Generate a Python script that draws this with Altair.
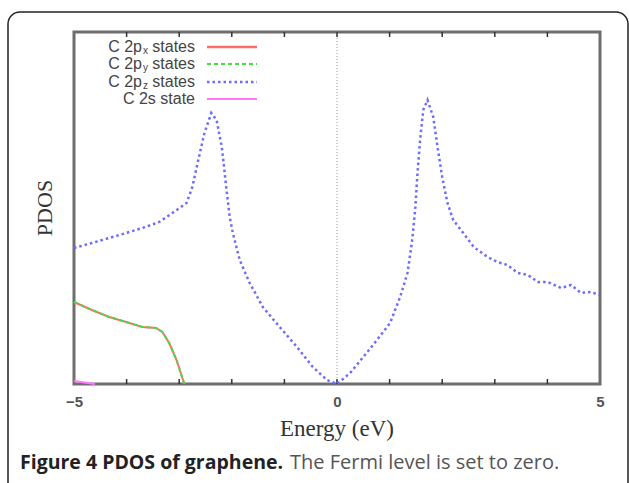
import altair as alt
import pandas as pd

# ---- data ----
energy_pz = [-5.0, -4.66, -4.33, -4.01, -3.70, -3.38, -3.13, -2.86, -2.75, -2.65, -2.52, -2.39,
             -2.29, -2.19, -2.10, -2.04, -1.98, -1.85, -1.66, -1.41, -1.09, -0.76, -0.46, -0.19, 0.0,
             0.25, 0.50, 0.76, 1.01, 1.20, 1.34, 1.43, 1.49, 1.53, 1.58, 1.64, 1.72, 1.83, 1.92,
             2.00, 2.10, 2.21, 2.40, 2.60, 2.86, 3.05, 3.24, 3.44, 3.63, 3.82, 4.01, 4.26, 4.45,
             4.64, 4.83, 4.98]
pdos_pz = [1.36, 1.41, 1.46, 1.51, 1.56, 1.62, 1.71, 1.81, 1.97, 2.21, 2.51, 2.71,
           2.64, 2.37, 1.94, 1.67, 1.51, 1.24, 1.01, 0.77, 0.57, 0.37, 0.17, 0.04, 0.0,
           0.11, 0.27, 0.44, 0.61, 0.87, 1.11, 1.44, 1.77, 2.11, 2.44, 2.74, 2.84, 2.67, 2.34,
           2.07, 1.81, 1.64, 1.51, 1.37, 1.27, 1.22, 1.19, 1.11, 1.09, 1.02, 1.02, 0.96, 0.99,
           0.91, 0.92, 0.89]

energy_pxy = [-5.0, -4.66, -4.33, -4.01, -3.70, -3.44, -3.32, -3.19, -3.05, -2.94, -2.90]
pdos_pxy = [0.82, 0.74, 0.67, 0.62, 0.57, 0.56, 0.52, 0.41, 0.24, 0.06, 0.0]

energy_s = [-5.0, -4.8, -4.6]
pdos_s = [0.03, 0.015, 0.0]

x_ticks = [-4, -3, -2, -1, 0, 1, 2, 3, 4]
x_labels = [-5, 0, 5]

legend_main = ["C 2p", "C 2p", "C 2p"]
legend_sub = ["x", "y", "z"]
legend_tail = ["states", "states", "states"]
legend_last = "C 2s state"

caption_bold = "Figure 4 PDOS of graphene."
caption_rest = "The Fermi level is set to zero."

W, H = 526, 352
YMAX = 3.52

pz = pd.DataFrame({"E": energy_pz, "P": pdos_pz})
pxy = pd.DataFrame({"E": energy_pxy, "P": pdos_pxy})
s2 = pd.DataFrame({"E": energy_s, "P": pdos_s})
ticks = pd.DataFrame({"E": x_ticks})
one = pd.DataFrame({"a": [0]})

xs = alt.Scale(domain=[-5, 5], nice=False, zero=False)
ys = alt.Scale(domain=[0, YMAX], nice=False)

X = alt.X("E:Q", scale=xs,
          axis=alt.Axis(values=x_labels, ticks=False, domain=False, grid=False, title=None,
                        labelFont="Liberation Sans", labelFontSize=15, labelFontWeight="bold",
                        labelColor="#555555", labelPadding=10, labelFlush=False))
Y = alt.Y("P:Q", scale=ys, axis=None)

# outer rounded frame
frame = alt.Chart(one).mark_rect(fill=None, stroke="#222222", strokeWidth=1.5, cornerRadius=12).encode(
    x=alt.value(-66), x2=alt.value(W + 28), y=alt.value(-20), y2=alt.value(H + 120))

zero_line = alt.Chart(pd.DataFrame({"E": [0]})).mark_rule(
    color="#999999", strokeWidth=1, strokeDash=[1, 2]).encode(
    x=alt.X("E:Q", scale=xs), y=alt.value(0), y2=alt.value(H))

ticks_bot = alt.Chart(ticks).mark_rule(color="#333333", strokeWidth=1.5).encode(
    x=alt.X("E:Q", scale=xs), y=alt.value(H), y2=alt.value(H - 5))
ticks_top = alt.Chart(ticks).mark_rule(color="#333333", strokeWidth=1.5).encode(
    x=alt.X("E:Q", scale=xs), y=alt.value(0), y2=alt.value(5))

line_pz = alt.Chart(pz).mark_line(color="#6b6bff", strokeWidth=2.5, strokeDash=[2.5, 3]).encode(x=X, y=Y)
line_px = alt.Chart(pxy).mark_line(color="#ff6b6b", strokeWidth=2).encode(x=X, y=Y)
line_py = alt.Chart(pxy).mark_line(color="#44dd44", strokeWidth=2, strokeDash=[4, 3]).encode(x=X, y=Y)
line_s = alt.Chart(s2).mark_line(color="#ff77ff", strokeWidth=2).encode(x=X, y=Y)

# legend
rows_y = [15, 32, 50, 67]
leg_font = dict(font="Liberation Sans", fontSize=16, color="#444444")
legend_layers = []
for i in range(3):
    legend_layers.append(alt.Chart(one).mark_text(align="right", baseline="middle", **leg_font).encode(
        x=alt.value(68), y=alt.value(rows_y[i]), text=alt.value(legend_main[i])))
    legend_layers.append(alt.Chart(one).mark_text(align="left", baseline="middle", font="Liberation Sans",
                                                  fontSize=10, color="#444444").encode(
        x=alt.value(69), y=alt.value(rows_y[i] + 4), text=alt.value(legend_sub[i])))
    legend_layers.append(alt.Chart(one).mark_text(align="right", baseline="middle", **leg_font).encode(
        x=alt.value(121), y=alt.value(rows_y[i]), text=alt.value(legend_tail[i])))
legend_layers.append(alt.Chart(one).mark_text(align="right", baseline="middle", **leg_font).encode(
    x=alt.value(121), y=alt.value(rows_y[3]), text=alt.value(legend_last)))

leg_styles = [
    dict(color="#ff6b6b", strokeWidth=2.5),
    dict(color="#44dd44", strokeWidth=2, strokeDash=[4, 3]),
    dict(color="#6b6bff", strokeWidth=2.5, strokeDash=[2.5, 3]),
    dict(color="#ff77ff", strokeWidth=2),
]
for i, st in enumerate(leg_styles):
    legend_layers.append(alt.Chart(one).mark_rule(**st).encode(
        x=alt.value(133), x2=alt.value(183), y=alt.value(rows_y[i])))

# axis titles
ytitle = alt.Chart(one).mark_text(angle=270, align="center", baseline="middle",
                                  font="Liberation Serif", fontSize=22, color="#333333").encode(
    x=alt.value(-29), y=alt.value(H / 2), text=alt.value("PDOS"))
xtitle = alt.Chart(one).mark_text(align="center", baseline="middle",
                                  font="Liberation Serif", fontSize=23, color="#333333").encode(
    x=alt.value(263), y=alt.value(H + 45), text=alt.value("Energy (eV)"))

cap1 = alt.Chart(one).mark_text(align="left", baseline="middle", font="Open Sans", fontSize=19.5,
                                fontWeight="bold", color="#222222").encode(
    x=alt.value(-54), y=alt.value(H + 79), text=alt.value(caption_bold))
cap2 = alt.Chart(one).mark_text(align="left", baseline="middle", font="Open Sans", fontSize=20,
                                color="#555555").encode(
    x=alt.value(216), y=alt.value(H + 79), text=alt.value(caption_rest))

chart = alt.layer(
    frame, zero_line, ticks_bot, ticks_top, line_pz, line_px, line_py, line_s,
    *legend_layers, ytitle, xtitle, cap1, cap2
).properties(
    width=W, height=H,
    autosize=alt.AutoSizeParams(type="none"),
    padding={"left": 74, "top": 32, "right": 629 - 74 - W, "bottom": 483 - 32 - H},
    background="white",
).configure_view(stroke="#6e6e6e", strokeWidth=3)

chart.save("out.html", embed_options={"renderer": "svg", "actions": False})
